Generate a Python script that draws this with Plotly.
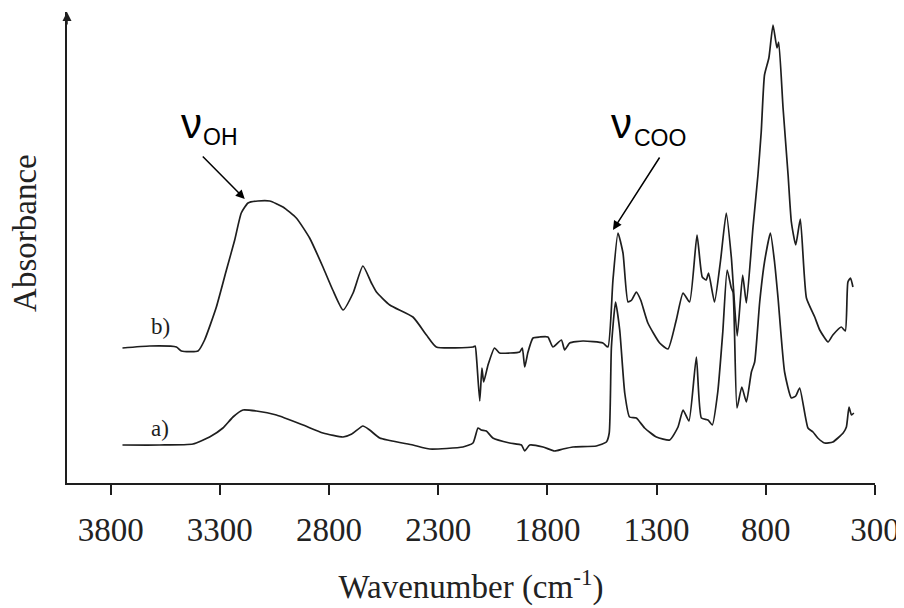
import plotly.graph_objects as go

# Spectrum b (upper) : wavenumber (cm-1) and absorbance (arbitrary units, offset)
wn_b = [3746, 3621, 3499, 3476, 3400, 3370, 3316, 3270, 3232, 3202, 3171, 3126, 3072,
        3011, 2950, 2889, 2828, 2783, 2736, 2690, 2645, 2606, 2583, 2522, 2416, 2354,
        2309, 2141, 2131, 2124, 2110, 2100, 2092, 2072, 2042, 2019, 1973, 1927, 1915,
        1904, 1889, 1866, 1836, 1798, 1775, 1736, 1721, 1698, 1637, 1546, 1523, 1500,
        1477, 1454, 1431, 1414, 1393, 1373, 1340, 1286, 1248, 1210, 1179, 1149, 1115,
        1091, 1073, 1062, 1035, 1007, 981, 958, 931, 906, 889, 859, 836, 821, 806, 786,
        767, 749, 741, 721, 698, 683, 663, 642, 614, 576, 553, 515, 493, 454, 436, 424,
        412, 401]
ab_b = [1.35, 1.37, 1.36, 1.32, 1.32, 1.43, 1.76, 2.13, 2.43, 2.70, 2.80, 2.82, 2.82,
        2.76, 2.65, 2.45, 2.16, 1.93, 1.73, 1.90, 2.17, 2.00, 1.91, 1.78, 1.66, 1.48,
        1.36, 1.36, 1.37, 1.23, 0.82, 1.15, 1.01, 1.18, 1.35, 1.30, 1.30, 1.31, 1.35,
        1.16, 1.31, 1.45, 1.46, 1.46, 1.36, 1.43, 1.33, 1.40, 1.42, 1.40, 1.36, 2.03,
        2.50, 2.30, 1.81, 1.83, 1.91, 1.83, 1.60, 1.40, 1.34, 1.63, 1.90, 1.81, 2.48,
        2.06, 2.03, 2.10, 1.81, 2.23, 2.70, 2.26, 1.47, 2.08, 1.80, 2.55, 3.08, 3.51,
        4.08, 4.25, 4.58, 4.35, 4.41, 3.75, 3.08, 2.61, 2.38, 2.64, 1.85, 1.66, 1.53,
        1.41, 1.48, 1.56, 1.52, 2.01, 2.05, 1.96]

# Spectrum a (lower)
wn_a = [3746, 3576, 3423, 3347, 3286, 3240, 3194, 3133, 3041, 2919, 2828, 2736, 2696,
        2645, 2614, 2568, 2416, 2339, 2187, 2141, 2118, 2103, 2080, 2050, 1973, 1919,
        1904, 1881, 1820, 1767, 1729, 1683, 1576, 1530, 1517, 1507, 1488, 1469, 1446,
        1424, 1393, 1355, 1301, 1240, 1202, 1179, 1152, 1118, 1095, 1065, 1045, 1020,
        997, 977, 958, 950, 932, 910, 889, 866, 851, 828, 806, 779, 760, 744, 714, 683,
        663, 645, 607, 584, 562, 531, 493, 446, 431, 419, 408, 397]
ab_a = [0.38, 0.38, 0.39, 0.46, 0.55, 0.66, 0.73, 0.72, 0.68, 0.58, 0.50, 0.46, 0.49,
        0.57, 0.53, 0.45, 0.38, 0.34, 0.36, 0.40, 0.55, 0.53, 0.52, 0.45, 0.40, 0.38,
        0.32, 0.38, 0.36, 0.32, 0.34, 0.36, 0.37, 0.41, 0.50, 1.36, 1.81, 1.53, 0.90,
        0.66, 0.65, 0.55, 0.46, 0.43, 0.56, 0.73, 0.62, 1.26, 0.65, 0.63, 0.58, 0.91,
        1.51, 2.13, 1.95, 1.91, 0.75, 0.96, 0.81, 1.11, 1.21, 1.81, 2.21, 2.50, 2.21,
        1.85, 1.11, 0.85, 0.87, 0.95, 0.55, 0.51, 0.45, 0.40, 0.41, 0.50, 0.56, 0.76,
        0.68, 0.70]

x_ticks = [3800, 3300, 2800, 2300, 1800, 1300, 800, 300]
x_range = [4000, 300]
y_range = [0, 4.71]

serif = "Liberation Serif, Times New Roman, serif"
sans = "Liberation Sans, Arial, sans-serif"
ink = "#1e1e1e"

fig = go.Figure()
for wn, ab in ((wn_b, ab_b), (wn_a, ab_a)):
    fig.add_trace(go.Scatter(x=wn, y=ab, mode="lines",
                             line=dict(color=ink, width=1.7, shape="spline", smoothing=0.5),
                             showlegend=False))

annotations = [
    # y axis title
    dict(x=-0.052, y=0.531, xref="paper", yref="paper", text="Absorbance", textangle=-90,
         showarrow=False, xanchor="center", yanchor="middle",
         font=dict(family=serif, size=33, color="#222")),
    # trace labels
    dict(x=3571, y=1.57, text="b)", showarrow=False, font=dict(family=serif, size=23, color=ink)),
    dict(x=3576, y=0.55, text="a)", showarrow=False, font=dict(family=serif, size=23, color=ink)),
    # band labels
    dict(x=3429, y=3.60, text="ν", showarrow=False, font=dict(family=sans, size=42, color="black")),
    dict(x=3299, y=3.46, text="OH", showarrow=False, font=dict(family=sans, size=23, color="black")),
    dict(x=1462, y=3.60, text="ν", showarrow=False, font=dict(family=sans, size=42, color="black")),
    dict(x=1284, y=3.45, text="COO", showarrow=False, font=dict(family=sans, size=23, color="black")),
    # arrows
    dict(x=3186, y=2.84, ax=3385, ay=3.28, axref="x", ayref="y", text="", showarrow=True,
         arrowhead=2, arrowsize=1.2, arrowwidth=1.5, arrowcolor="black", standoff=0),
    dict(x=1500, y=2.53, ax=1282, ay=3.27, axref="x", ayref="y", text="", showarrow=True,
         arrowhead=2, arrowsize=1.2, arrowwidth=1.5, arrowcolor="black", standoff=0),
    # y axis arrow
    dict(x=0, y=1, xref="paper", yref="paper", ax=0, ay=14, axref="pixel", ayref="pixel",
         text="", showarrow=True, arrowhead=2, arrowsize=1.2, arrowwidth=1.5,
         arrowcolor=ink, standoff=0),
]

fig.update_layout(
    width=904, height=608,
    margin=dict(l=59, r=37, t=4, b=133, autoexpand=False),
    paper_bgcolor="white", plot_bgcolor="white",
    annotations=annotations,
    xaxis=dict(range=x_range, tickvals=x_ticks, ticktext=[str(t) for t in x_ticks],
               ticks="outside", ticklen=10, tickwidth=1.5, tickcolor=ink, automargin=False,
               ticklabelstandoff=7,
               showline=True, linecolor=ink, linewidth=1.5, showgrid=False, zeroline=False,
               tickfont=dict(family=serif, size=33, color="#222"),
               title=dict(text="Wavenumber (cm<sup>-1</sup>)", standoff=28,
                          font=dict(family=serif, size=33, color="#222"))),
    yaxis=dict(range=y_range, showticklabels=False, ticks="", showline=True, automargin=False,
               linecolor=ink, linewidth=1.5, showgrid=False, zeroline=False),
)

fig.write_html("out.html")
